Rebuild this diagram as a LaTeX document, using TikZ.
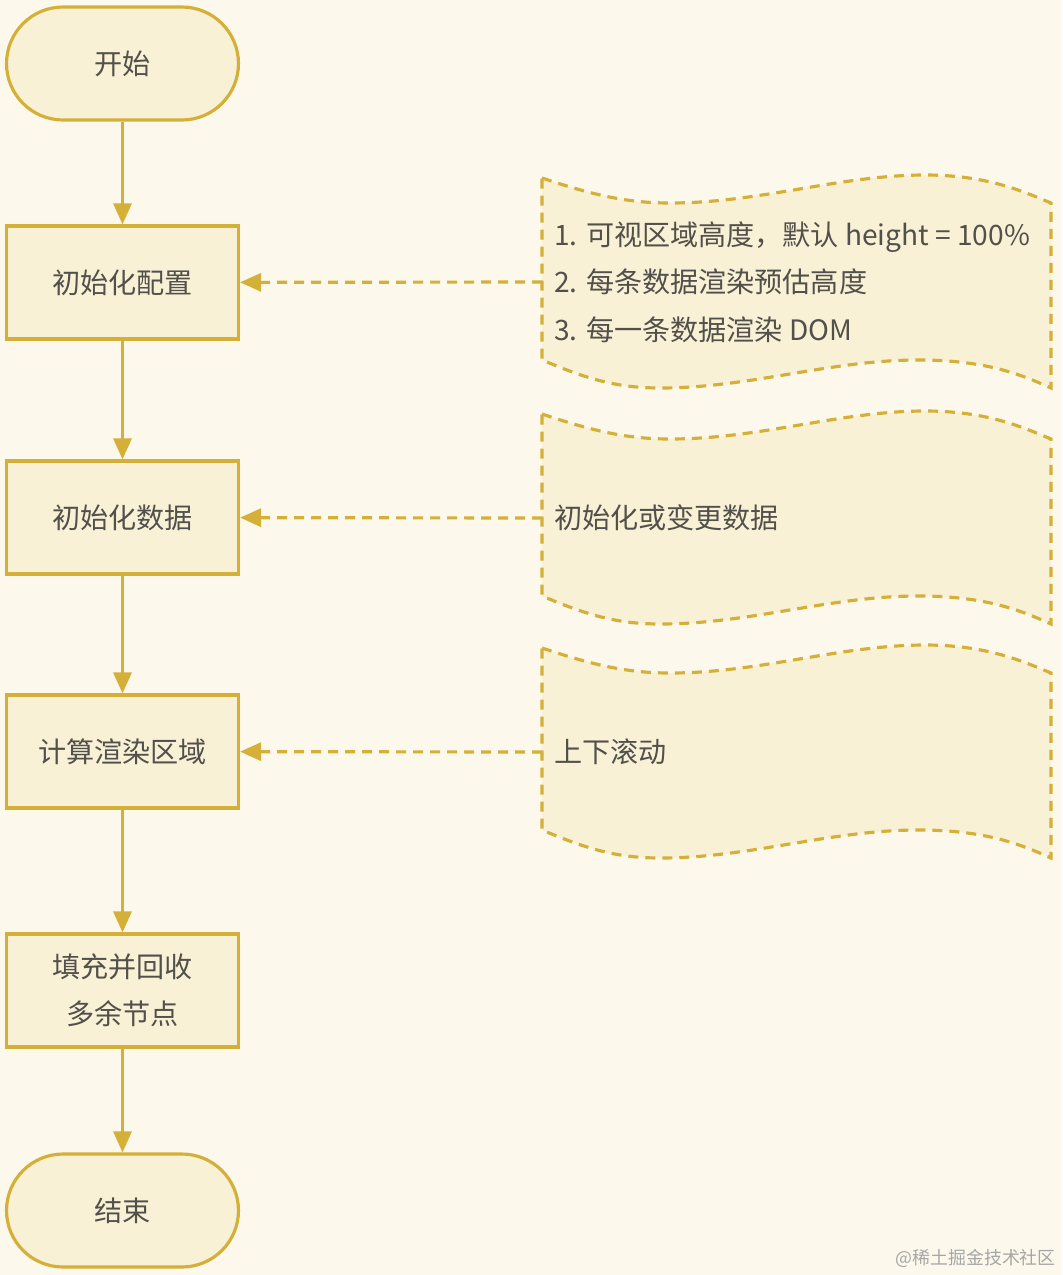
\documentclass[tikz,border=0pt]{standalone}
\usepackage{fontspec}
\setmainfont{Noto Sans CJK SC}
\usetikzlibrary{arrows.meta,positioning}
\definecolor{nen}{RGB}{252,248,236}
\definecolor{vang}{RGB}{212,176,56}
\definecolor{kem}{RGB}{249,241,214}
\definecolor{chu}{RGB}{82,80,74}
\begin{document}
\begin{tikzpicture}[x=0.02cm,y=-0.02cm,
	buoc/.style={draw=vang,fill=kem,line width=1.8pt,minimum width=4.64cm,minimum height=2.26cm,
		text=chu,font=\fontsize{16}{27}\selectfont,align=center},
	dauduoi/.style={buoc,rounded corners=1.13cm},
	muiten/.style={draw=vang,line width=1.8pt,-{Triangle[length=0.42cm,width=0.36cm]}},
	netdut/.style={muiten,dash pattern=on 0.2cm off 0.14cm},
	bang/.style={draw=vang,fill=kem,line width=1.8pt,dash pattern=on 0.2cm off 0.14cm},
	ghichu/.style={text=chu,font=\fontsize{16}{27}\selectfont,anchor=west,align=left}]
	
	\fill[nen] (0,0) rectangle (1062,1275);
	\def\xl{542}
	\def\xr{1051}
	
	\node[dauduoi] (batdau) at (122.5,63.5) {开始};
	\node[buoc] (cauhinh) at (122.5,282.5) {初始化配置};
	\node[buoc] (dulieu) at (122.5,517.5) {初始化数据};
	\node[buoc] (tinhtoan) at (122.5,751.5) {计算渲染区域};
	\node[buoc] (lapday) at (122.5,990.5) {填充并回收\\多余节点};
	\node[dauduoi] (ketthuc) at (122.5,1210.5) {结束};
	
	\foreach \ten/\yo in {bang1/282,bang2/518,bang3/752}{
		\draw[bang] (\xl,\yo-104) .. controls (590,\yo-88) and (625,\yo-79) .. (670,\yo-79)
			.. controls (760,\yo-79) and (840,\yo-107) .. (925,\yo-107)
			.. controls (985,\yo-107) and (1020,\yo-92) .. (\xr,\yo-79)
			-- (\xr,\yo+106) .. controls (1020,\yo+92) and (985,\yo+78) .. (918,\yo+78)
			.. controls (830,\yo+78) and (750,\yo+106) .. (660,\yo+106)
			.. controls (615,\yo+106) and (585,\yo+96) .. (\xl,\yo+78) -- cycle;
		\coordinate (\ten) at (\xl,\yo);
	}
	\node[ghichu] (chu1) at (548,282) {1. 可视区域高度，默认 height = 100\%\\2. 每条数据渲染预估高度\\3. 每一条数据渲染 DOM};
	\node[ghichu] (chu2) at (548,518) {初始化或变更数据};
	\node[ghichu] (chu3) at (548,752) {上下滚动};
	
	\draw[muiten] (batdau) -- (cauhinh);
	\draw[muiten] (cauhinh) -- (dulieu);
	\draw[muiten] (dulieu) -- (tinhtoan);
	\draw[muiten] (tinhtoan) -- (lapday);
	\draw[muiten] (lapday) -- (ketthuc);
	\draw[netdut] (bang1) -- (cauhinh);
	\draw[netdut] (bang2) -- (dulieu);
	\draw[netdut] (bang3) -- (tinhtoan);
	
	\node[anchor=east,text=black!35,font=\fontsize{10.2}{11}\selectfont] (nguon) at (1062,1258) {@稀土掘金技术社区};
\end{tikzpicture}
\end{document}
